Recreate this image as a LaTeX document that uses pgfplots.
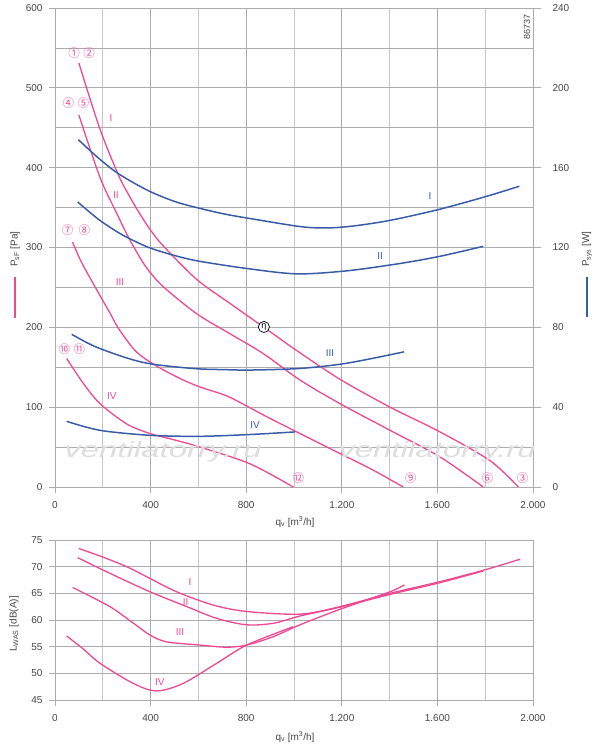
\documentclass[border=0pt]{standalone}
\usepackage{pgfplots}
\pgfplotsset{compat=1.18}
\usepackage{fontspec}
\setmainfont{Liberation Sans}
\newfontfamily\cjk{Noto Sans CJK SC}
\definecolor{pk}{RGB}{238,72,146}
\definecolor{bl}{RGB}{58,92,168}
\definecolor{gr}{RGB}{172,172,172}
\definecolor{grl}{RGB}{198,198,198}
\definecolor{tx}{RGB}{70,70,70}
\definecolor{wm}{RGB}{222,222,222}
\pgfplotsset{
  base/.style={
    scale only axis, width=478pt, xmin=0, xmax=2000,
    tick align=outside, major tick length=6pt, minor tick length=0pt,
    tick style={gr, line width=0.8pt},
    axis line style={gr, line width=0.8pt},
    ticklabel style={font=\fontsize{10}{12}\selectfont, text=tx},
    xticklabel style={yshift=-5pt},
    yticklabel style={xshift=-3pt},
    /pgf/number format/assume math mode=true,
    /pgf/number format/1000 sep={.},
    xtick={0,400,...,2000}, minor xtick={200,600,...,1800},
    xtick pos=bottom, ytick pos=left,
    grid=both,
    major grid style={gr, line width=0.8pt},
    minor x grid style={grl, line width=0.8pt},
    minor y grid style={gr, line width=0.8pt},
  },
  pc/.style={pk, line width=1.3pt, smooth, no markers},
  bc/.style={bl, line width=1.5pt, smooth, no markers},
}
\newcommand{\cn}[1]{{\cjk\fontsize{11.5}{11.5}\selectfont #1}}
\begin{document}
\begin{tikzpicture}
\useasboundingbox (0pt,0pt) rectangle (600pt,-747pt);
% ---------------- top chart: pressure ----------------
\begin{axis}[base, at={(55pt,-487pt)}, anchor=south west, height=479pt,
  ymin=0, ymax=600, ytick={0,100,...,600}, minor ytick={50,150,...,550}]
\addplot[pc] coordinates {(100,531) (185,451) (265,391) (314,363) (349,345) (397,323) (453,302) (593,260) (732,230) (874,200) (1011,171) (1192,135) (1402,100) (1611,69) (1820,33) (1939,0)};
\addplot[pc] coordinates {(100,466) (188,388) (258,343) (314,309) (380,276) (453,251) (593,217) (732,192) (872,167) (1025,134) (1192,104.5) (1402,71) (1611,37.6) (1792,0)};
\addplot[pc] coordinates {(73,307) (105,285) (139,266) (184,242) (230,218) (265,199) (335,171) (411,154) (516,137) (600,126) (711,115) (780,105) (886,88) (1025,67) (1192,42) (1332,21) (1457,0)};
\addplot[pc] coordinates {(49,161) (118,130) (188,104.5) (300,79) (397,67) (500,59) (607,50) (816,29) (997,0)};
% labels
\node[pk, font=\fontsize{10}{10}\selectfont] at (axis cs:234,462) {I};
\node[pk, font=\fontsize{10}{10}\selectfont] at (axis cs:255,366) {II};
\node[pk, font=\fontsize{10}{10}\selectfont] at (axis cs:272,257) {III};
\node[pk, font=\fontsize{10}{10}\selectfont] at (axis cs:238,114) {IV};
\node[bl, font=\fontsize{10}{10}\selectfont] at (axis cs:1569,364) {I};
\node[bl, font=\fontsize{10}{10}\selectfont] at (axis cs:1360,289) {II};
\node[bl, font=\fontsize{10}{10}\selectfont] at (axis cs:1151,168) {III};
\node[bl, font=\fontsize{10}{10}\selectfont] at (axis cs:837,77) {IV};
\node[pk] at (axis cs:80,543) {\cn{①}};
\node[pk] at (axis cs:143,543) {\cn{②}};
\node[pk] at (axis cs:56,481) {\cn{④}};
\node[pk] at (axis cs:119,481) {\cn{⑤}};
\node[pk] at (axis cs:53,322) {\cn{⑦}};
\node[pk] at (axis cs:123,322) {\cn{⑧}};
\node[pk] at (axis cs:39,173) {\cn{⑩}};
\node[pk] at (axis cs:102,173) {\cn{⑪}};
\node[pk] at (axis cs:1018,11) {\cn{⑫}};
\node[pk] at (axis cs:1488,11) {\cn{⑨}};
\node[pk] at (axis cs:1809,11) {\cn{⑥}};
\node[pk] at (axis cs:1957,11) {\cn{③}};
\end{axis}
% ---------------- top chart: power ----------------
\begin{axis}[scale only axis, width=478pt, height=479pt, at={(55pt,-487pt)}, anchor=south west,
  xmin=0, xmax=2000, ymin=0, ymax=240, axis x line=none, axis y line*=right,
  ytick={0,40,...,240}, tick align=outside, major tick length=8pt,
  tick style={gr, line width=0.8pt}, axis line style={gr, line width=0.8pt},
  ticklabel style={font=\fontsize{10}{12}\selectfont, text=tx},
  yticklabel style={xshift=8pt},
  /pgf/number format/assume math mode=true]
\addplot[bc] coordinates {(98,174) (180,165) (265,157) (390,148.5) (502,143) (593,140) (700,137) (802,134.8) (1025,130.5) (1137,129.8) (1250,130.8) (1402,133.6) (1604,139) (1799,145.4) (1943,150.7)};
\addplot[bc] coordinates {(95,142.8) (180,134.3) (258,128) (314,124.3) (397,119.8) (500,116) (600,113.2) (802,109.5) (1011,106.8) (1220,108.3) (1444,112) (1611,115.6) (1792,120.6)};
\addplot[bc] coordinates {(70,76.5) (167,70.4) (307,64.4) (411,61.5) (586,59.3) (711,58.8) (816,58.6) (1025,59.4) (1220,62) (1460,67.7)};
\addplot[bc] coordinates {(49,32.9) (188,28.4) (397,25.9) (607,25.4) (816,26.3) (1004,27.6)};
\node[circle, draw=black, fill=white, inner sep=1pt, line width=0.7pt, font=\fontsize{9}{9}\selectfont] at (axis cs:874,80.2) {η};
\end{axis}
% ---------------- bottom chart: sound ----------------
\begin{axis}[base, at={(55pt,-700pt)}, anchor=south west, height=160pt,
  ymin=45, ymax=75, ytick={45,50,...,75}, minor ytick={}]
\addplot[pc] coordinates {(100,73.4) (200,71.8) (300,70.0) (397,67.8) (508,65.3) (662,62.8) (802,61.6) (1025,61.1) (1192,62.5) (1402,65) (1611,67.2) (1806,69.5) (1946,71.4)};
\addplot[pc] coordinates {(95,71.7) (230,68.75) (397,65.3) (552,62.5) (677,60.3) (802,59.1) (915,59.4) (1025,60.75) (1192,62.4) (1402,64.8) (1611,67.0) (1792,69.2)};
\addplot[pc] coordinates {(74,66.1) (230,62.5) (328,59.4) (397,57.2) (467,55.9) (607,55.3) (718,54.9) (802,55.3) (915,56.9) (1025,59.1) (1192,62.0) (1402,65.3) (1462,66.6)};
\addplot[pc] coordinates {(49,57) (120,54.5) (188,51.9) (328,48.1) (425,46.7) (536,48.1) (677,51.9) (802,55.3) (997,58.75)};
\node[pk, font=\fontsize{10}{10}\selectfont] at (axis cs:565,67.2) {I};
\node[pk, font=\fontsize{10}{10}\selectfont] at (axis cs:547,63.3) {II};
\node[pk, font=\fontsize{10}{10}\selectfont] at (axis cs:523,57.7) {III};
\node[pk, font=\fontsize{10}{10}\selectfont] at (axis cs:439,48.4) {IV};
\end{axis}
% ---------------- texts ----------------
\node[text=tx, font=\fontsize{10}{12}\selectfont] at (295pt,-522pt) {q\textsubscript{v} [m\textsuperscript{3}/h]};
\node[text=tx, font=\fontsize{10}{12}\selectfont] at (295pt,-737pt) {q\textsubscript{v} [m\textsuperscript{3}/h]};
\node[text=tx, font=\fontsize{10}{12}\selectfont, rotate=90] at (15pt,-249pt) {P\textsubscript{sF} [Pa]};
\draw[pk, line width=1.3pt] (15pt,-277pt) -- (15pt,-318pt);
\node[text=tx, font=\fontsize{10}{12}\selectfont, rotate=90] at (587pt,-249pt) {P\textsubscript{sys} [W]};
\draw[bl, line width=1.5pt] (587pt,-277pt) -- (587pt,-317pt);
\node[text=tx, font=\fontsize{10}{12}\selectfont, rotate=90] at (14pt,-624pt) {L\textsubscript{WAS} [dB(A)]};
\node[text=tx, font=\fontsize{9}{10}\selectfont, rotate=90] at (527pt,-27pt) {86737};
\node[text=wm, font=\fontsize{22}{22}\itshape, xscale=1.5] at (163pt,-452pt) {ventilatorry.ru};
\node[text=wm, font=\fontsize{22}{22}\itshape, xscale=1.5] at (437pt,-452pt) {ventilatorry.ru};
\end{tikzpicture}
\end{document}
